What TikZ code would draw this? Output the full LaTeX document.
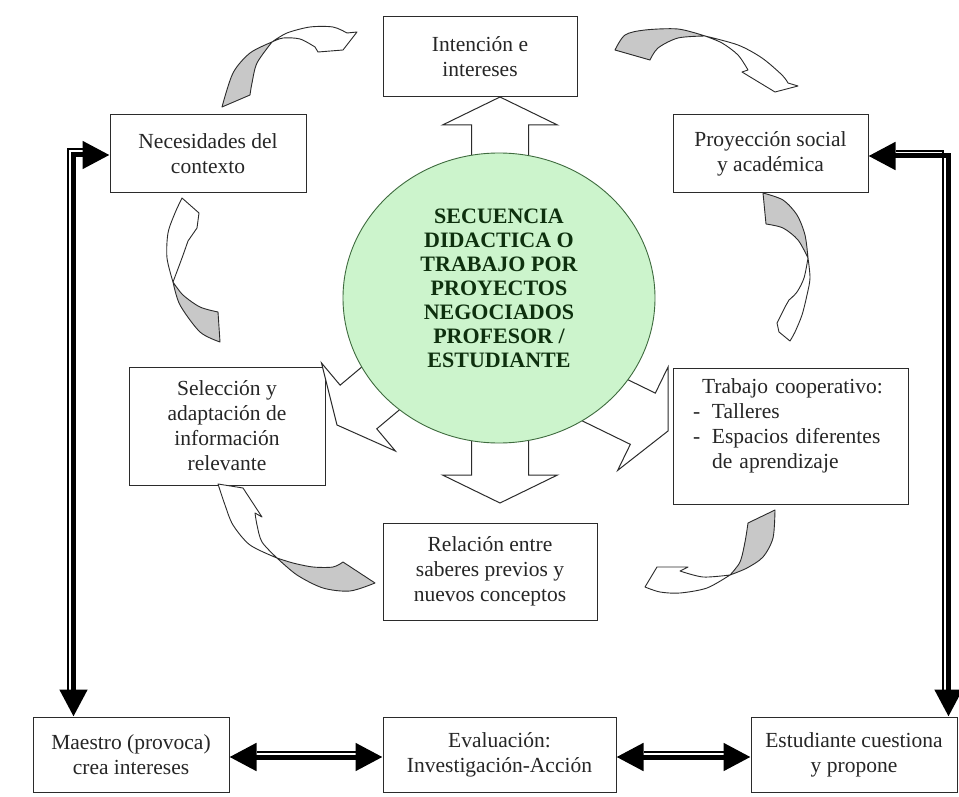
\documentclass[tikz,border=0pt]{standalone}
\usepackage{fontspec}
\setmainfont{Liberation Serif}
\usepackage{tikz}
\usetikzlibrary{shapes.geometric, arrows.meta}
\definecolor{hubgreen}{HTML}{CCF4CC}
\definecolor{hubline}{HTML}{3E6B3E}
\definecolor{hubtext}{HTML}{0E300E}
\definecolor{edge}{HTML}{2B2B2B}
\definecolor{back}{HTML}{C8C8C8}
\newcommand{\boxfont}{\fontsize{21.5}{25}\selectfont}
\newcommand{\hubfont}{\bfseries\fontsize{22}{24}\selectfont}

\begin{document}
\begin{tikzpicture}[x=1pt, y=-1pt,
    box/.style={rectangle, draw=edge, line width=1pt, fill=white, align=center,
      inner sep=0pt, font=\boxfont, text=black!85},
    hub/.style={ellipse, draw=hubline, line width=0.9pt, fill=hubgreen, minimum width=312pt,
      minimum height=290pt, inner sep=0pt, align=center, font=\hubfont, text=hubtext},
    flow/.style={draw=edge, line width=1pt, fill=white},
    twist/.style={draw=edge, line width=0.9pt, line join=round},
    bar/.style={line width=5pt, {Triangle[length=27pt,width=27pt]}-{Triangle[length=27pt,width=27pt]}},
    hair/.style={line width=1.5pt},
  ]
  \useasboundingbox[fill=white] (0,0) rectangle (959,797);

  \node[box, minimum width=194pt, minimum height=80pt]  (intencion)   at (480,57)    {Intención e\\intereses};
  \node[box, minimum width=196pt, minimum height=78pt]  (necesidades) at (208,154)   {Necesidades del\\contexto};
  \node[box, minimum width=195pt, minimum height=78pt]  (proyeccion)  at (770.5,154) {Proyección social\\y académica};
  \node[box, minimum width=196pt, minimum height=118pt] (seleccion)   at (227,426)   {Selección y\\adaptación de\\información\\relevante};
  \node[box, minimum width=235pt, minimum height=136pt, text width=195pt, align=left] (trabajo) at (790.5,436)
    {\hspace*{9pt}Trabajo cooperativo:\\\makebox[19pt][l]{-}Talleres\\\makebox[19pt][l]{-}Espacios diferentes\\\hspace*{19pt}de aprendizaje\\\mbox{}};
  \node[box, minimum width=214pt, minimum height=97pt]  (relacion)    at (490,571.5) {Relación entre\\saberes previos y\\nuevos conceptos};
  \node[box, minimum width=196pt, minimum height=75pt]  (maestro)     at (131,754.5) {Maestro (provoca)\\crea intereses};
  \node[box, minimum width=233pt, minimum height=75pt]  (evaluacion)  at (499.5,754.5) {Evaluación:\\Investigación-Acción};
  \node[box, minimum width=206pt, minimum height=75pt]  (estudiante)  at (854,754.5) {Estudiante cuestiona\\y propone};

  \foreach \x/\y/\a in {500/97/90, 500/503/-90, 337/425/-140, 668/431/-26} {
    \draw[flow, shift={(\x,\y)}, rotate=\a] (0,0) -- (-28,57.5) -- (-28,28.5) -- (-100,28.5)
      -- (-100,-28.5) -- (-28,-28.5) -- (-28,-57.5) -- cycle;
  }

  \node[hub] (hub) at (499,298) {SECUENCIA\\DIDACTICA O\\TRABAJO POR\\PROYECTOS\\NEGOCIADOS\\PROFESOR /\\ESTUDIANTE\\[-5pt]\mbox{}};

  % curved arrows round the cycle
  \filldraw[twist, fill=back] plot[smooth] coordinates {(222,107) (233,73) (250,53) (272,42)}
    -- plot[smooth] coordinates {(272,42) (257,63) (252,83) (250,95)} -- cycle;
  \filldraw[twist, fill=white] plot[smooth] coordinates {(272,42) (287,33) (310,27) (333,27) (347,33)}
    -- (357,32) -- (343,50) -- (318,52) -- (315,47)
    -- plot[smooth] coordinates {(315,47) (300,39) (283,38) (272,42)} -- cycle;

  \filldraw[twist, fill=back] plot[smooth] coordinates {(615,50) (625,35) (645,30) (678,29) (705,36)}
    -- plot[smooth] coordinates {(705,36) (678,38) (658,48) (650,60)} -- cycle;
  \filldraw[twist, fill=white] plot[smooth] coordinates {(705,36) (738,45) (762,58) (782,75) (788,83)}
    -- (798,86) -- (775,92) -- (742,72) -- (748,70)
    -- plot[smooth] coordinates {(748,70) (738,55) (722,43) (705,36)} -- cycle;

  \filldraw[twist, fill=back] plot[smooth] coordinates {(763,193) (783,200) (797,215) (805,235) (808,258)}
    -- plot[smooth] coordinates {(808,258) (798,240) (783,228) (766,224)} -- cycle;
  \filldraw[twist, fill=white] plot[smooth] coordinates {(808,258) (810,278) (807,295) (802,315) (795,332) (790,341)}
    -- (779,332) -- (777,323) -- (785,307) -- (789,300)
    -- plot[smooth] coordinates {(789,300) (797,292) (804,278) (808,258)} -- cycle;

  \filldraw[twist, fill=back] plot[smooth] coordinates {(775,510) (773,538) (763,557) (747,568) (730,575)}
    -- plot[smooth] coordinates {(730,575) (740,562) (745,542) (748,523)} -- cycle;
  \filldraw[twist, fill=white] plot[smooth] coordinates {(730,575) (707,588) (680,593) (660,592) (645,587)}
    -- (657,567) -- (688,567) -- (680,571)
    -- plot[smooth] coordinates {(680,571) (703,577) (730,575)} -- cycle;

  \filldraw[twist, fill=back] plot[smooth] coordinates {(343,562) (333,567) (313,567) (293,563) (277,558)}
    -- plot[smooth] coordinates {(277,558) (297,575) (323,588) (350,591) (375,583)} -- cycle;
  \filldraw[twist, fill=white] plot[smooth] coordinates {(277,558) (250,545) (233,525) (225,505) (218,484)}
    -- (243,488) -- (262,517) -- (255,513)
    -- plot[smooth] coordinates {(255,513) (257,525) (262,542) (277,558)} -- cycle;

  \filldraw[twist, fill=back] plot[smooth] coordinates {(218,312) (200,307) (183,295) (173,282)}
    -- plot[smooth] coordinates {(173,282) (180,305) (200,332) (220,342)} -- cycle;
  \filldraw[twist, fill=white] plot[smooth] coordinates {(173,282) (167,258) (168,233) (175,213) (182,198)}
    -- (199,213) -- (197,228) -- (188,241)
    -- plot[smooth] coordinates {(188,241) (182,258) (173,282)} -- cycle;

  % double-line connectors
  \draw[bar] ([xshift=41pt]maestro.north west) |- ([yshift=-1pt]necesidades.west);
  \draw[hair] ([xshift=35.5pt, yshift=27pt]maestro.north west) |- ([xshift=-27pt, yshift=5pt]necesidades.west);
  \draw[bar] ([xshift=-9pt]estudiante.north east) |- ([yshift=-2pt]proyeccion.east);
  \draw[hair] ([xshift=-14.5pt, yshift=27pt]estudiante.north east) |- ([xshift=27pt, yshift=3pt]proyeccion.east);
  \foreach \a/\b in {maestro/evaluacion, evaluacion/estudiante} {
    \draw[bar] ([yshift=-2.5pt]\a.east) -- ([yshift=-2.5pt]\b.west);
    \draw[hair] ([xshift=27pt, yshift=2.5pt]\a.east) -- ([xshift=-27pt, yshift=2.5pt]\b.west);
  }
\end{tikzpicture}
\end{document}
